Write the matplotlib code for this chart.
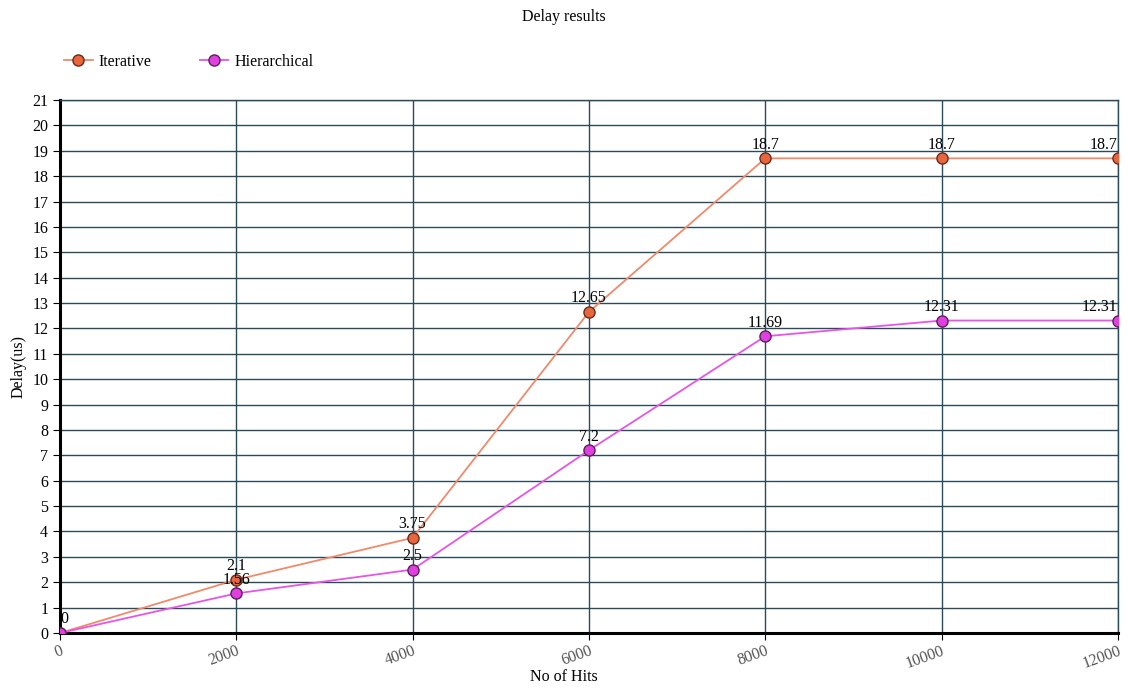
import matplotlib
matplotlib.use("Agg")
import matplotlib.pyplot as plt

# data
hits = [0, 2000, 4000, 6000, 8000, 10000, 12000]
iterative = [0, 2.1, 3.75, 12.65, 18.7, 18.7, 18.7]
hierarchical = [0, 1.56, 2.5, 7.2, 11.69, 12.31, 12.31]
iter_labels = ["0", "2.1", "3.75", "12.65", "18.7", "18.7", "18.7"]
hier_labels = ["", "1.56", "2.5", "7.2", "11.69", "12.31", "12.31"]

plt.rcParams["font.family"] = ["Liberation Serif", "DejaVu Serif"]
plt.rcParams["font.size"] = 10

fig = plt.figure(figsize=(11.28, 6.88), dpi=100)
ax = fig.add_axes([0.0532, 0.0799, 0.9378, 0.7748])

grid_col = "#2b4a5a"
ax.plot(hits, iterative, color="#f08a6a", lw=1.3, marker="o", ms=8,
        mfc="#e8663e", mec="#6a2a1a", mew=1.0, label="Iterative", zorder=3)
ax.plot(hits, hierarchical, color="#e655e6", lw=1.3, marker="o", ms=8,
        mfc="#e040e0", mec="#5a205a", mew=1.0, label="Hierarchical", zorder=3)

for x, y, t in zip(hits, iterative, iter_labels):
    ha = "right" if x == hits[-1] else ("left" if x == 0 else "center")
    ax.annotate(t, (x, y), xytext=(0, 4), textcoords="offset points",
                ha=ha, va="bottom", fontsize=11.5, zorder=4)
for x, y, t in zip(hits, hierarchical, hier_labels):
    ha = "right" if x == hits[-1] else "center"
    ax.annotate(t, (x, y), xytext=(0, 4), textcoords="offset points",
                ha=ha, va="bottom", fontsize=11.5, zorder=4)

ax.set_xlim(0, 12000)
ax.set_ylim(0, 21)
ax.set_yticks(range(0, 22))
ax.set_xticks(hits)
ax.set_xticklabels([str(h) for h in hits], rotation=20, color="#555555",
                   ha="right", rotation_mode="anchor")
ax.grid(True, color=grid_col, lw=1.0)
ax.set_axisbelow(True)

for s in ["top", "right"]:
    ax.spines[s].set_color(grid_col)
    ax.spines[s].set_linewidth(1.0)
for s in ["left", "bottom"]:
    ax.spines[s].set_color("black")
    ax.spines[s].set_linewidth(2.2)
ax.tick_params(axis="y", length=5, labelsize=11.5)
ax.tick_params(axis="x", length=5, labelsize=11.5, pad=2)

fig.text(0.5, 0.016, "No of Hits", ha="center", va="center", fontsize=11.5)
ax.set_ylabel("Delay(us)", fontsize=11.5, labelpad=4)
fig.text(0.5, 0.975, "Delay results", ha="center", va="center", fontsize=11.5)

ax.legend(loc="lower left", bbox_to_anchor=(-0.01, 1.03), ncol=2, frameon=False,
          fontsize=11.5, handlelength=1.8, columnspacing=3, handletextpad=0.4)

fig.savefig("out.png", dpi=100)
